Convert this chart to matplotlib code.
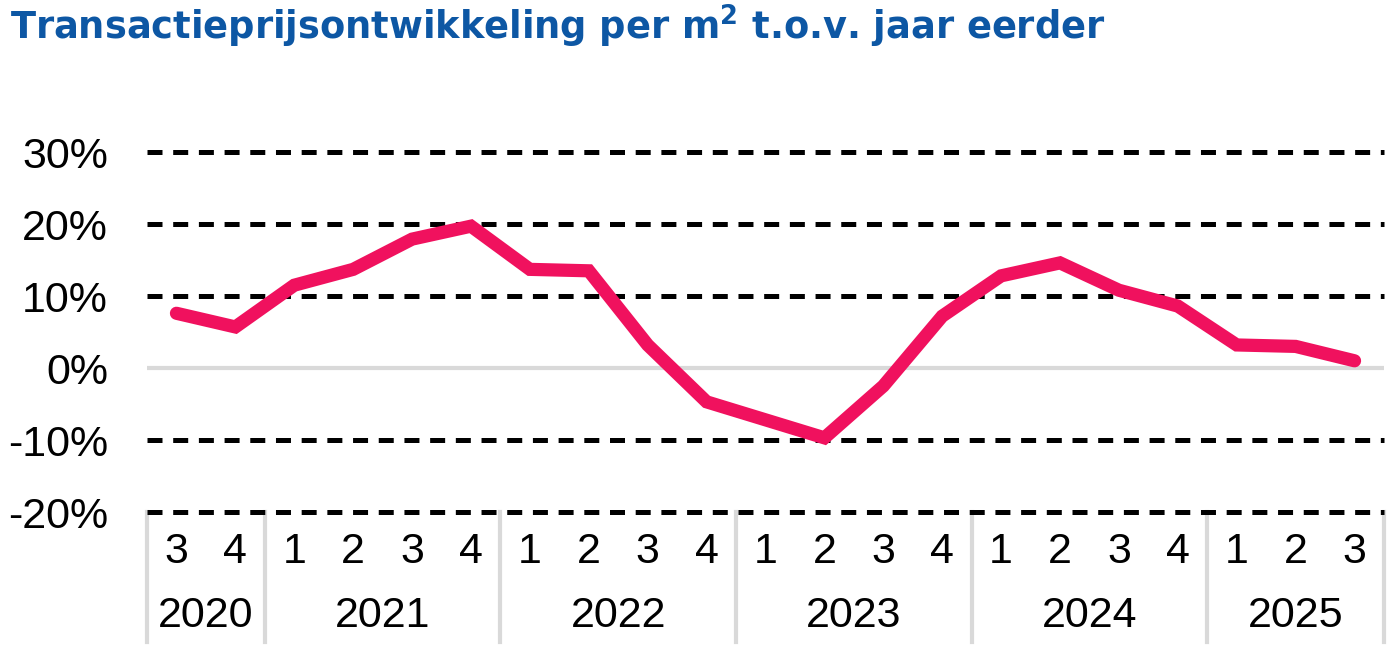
import matplotlib
matplotlib.use("Agg")
import matplotlib.pyplot as plt
import matplotlib.transforms as mtransforms

plt.rcParams['font.family'] = ['Liberation Sans', 'DejaVu Sans']

# Data (year-on-year change, %)
quarters = ['3', '4',
            '1', '2', '3', '4',
            '1', '2', '3', '4',
            '1', '2', '3', '4',
            '1', '2', '3', '4',
            '1', '2', '3']
years = ['2020', '2021', '2022', '2023', '2024', '2025']
quarters_per_year = [2, 4, 4, 4, 4, 3]
change = [7.6, 5.7, 11.5, 13.7, 17.9, 19.7,
          13.7, 13.5, 3.2, -4.7, -7.2, -9.7,
          -2.5, 7.2, 12.8, 14.6, 10.8, 8.6,
          3.2, 3.0, 1.0]
yticks = [-20, -10, 0, 10, 20, 30]

title_blue = '#0D57A4'
line_pink = '#F0115E'
light_grey = '#D9D9D9'

fig = plt.figure(figsize=(13.88, 6.5), dpi=100)
ax = fig.add_axes([147 / 1388, 138 / 650, (1384 - 147) / 1388, 360 / 650])

x = list(range(len(change)))
ax.set_xlim(-0.5, len(change) - 0.5)
ax.set_ylim(-20, 30)

# gridlines
lw_grid = 3.6
for t in yticks:
    if t == 0:
        ax.axhline(t, color=light_grey, lw=3.0, zorder=1)
    else:
        ax.axhline(t, color='black', lw=lw_grid, zorder=1,
                   ls=(0, (10.8 / lw_grid, 7.7 / lw_grid)), clip_on=False)

ax.plot(x, change, color=line_pink, lw=9.5, solid_capstyle='round',
        solid_joinstyle='miter', zorder=3)

for s in ax.spines.values():
    s.set_visible(False)
ax.set_xticks([])
ax.set_yticks(yticks)
ax.set_yticklabels([f'{t}%' for t in yticks], fontsize=31)
ax.tick_params(axis='y', length=0, pad=28)

# two-level category axis
trans = mtransforms.blended_transform_factory(ax.transData, ax.transAxes)
for i, q in enumerate(quarters):
    ax.text(i, -0.11, q, transform=trans, ha='center', va='center', fontsize=31)

start = 0
bounds = [-0.5]
for yr, n in zip(years, quarters_per_year):
    mid = start + (n - 1) / 2
    ax.text(mid, -0.29, yr, transform=trans, ha='center', va='center', fontsize=31)
    start += n
    bounds.append(start - 0.5)
for b in bounds:
    ax.plot([b, b], [0, -0.362], transform=trans, color=light_grey, lw=3.0,
            clip_on=False, zorder=0)

fig.text(10 / 1388, 1 - 3 / 650, r'Transactieprijsontwikkeling per m$^{\mathbf{2}}$ t.o.v. jaar eerder',
         color=title_blue, fontsize=26.5, fontweight='bold', ha='left', va='top',
         family=['DejaVu Sans'])

fig.savefig('out.png', dpi=100)
